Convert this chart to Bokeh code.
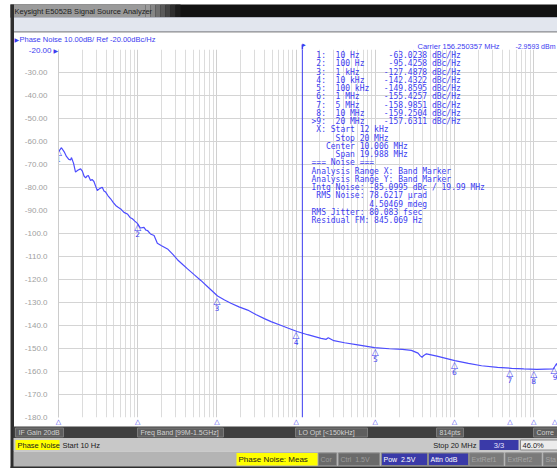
import math
from bokeh.plotting import figure
from bokeh.models import (Range1d, FixedTicker, CustomJSTickFormatter, Span, GridBox,
                          LogScale, ColumnDataSource)
from bokeh.core.properties import value
from bokeh.embed import file_html
from bokeh.resources import INLINE

# ---------------- data ----------------
freq_hz = [10, 10.9, 11.8, 12.6, 13.5, 14.2, 14.6, 15.5, 16.4, 17.5, 19.0, 20.0,
           21.0, 22.0, 23.0, 23.8, 25.4, 26.5, 28.0, 29.5, 30.9, 33.0, 35.7, 37.5,
           39.4, 42.0, 45.5, 49.0, 52.7, 56.5, 61.0, 67.0, 74.1, 80.0, 85.7, 92.0,
           99.1, 108, 120, 127, 133, 145, 161, 177, 200, 238, 280, 318, 370, 426,
           520, 627, 800, 1020, 1250, 1503, 1900, 2450, 3100, 3975, 4830, 6500,
           8000, 10300, 14000, 20700, 24000, 25500, 30000, 40850, 60000, 98000,
           150000, 220000, 285700, 346700, 370000, 390000, 410000, 442600, 600000,
           1009000, 1500000, 2198000, 3500000, 5272000, 7500000, 10900000,
           14000000, 17700000, 19500000, 20000000]
phase_noise_dbc = [-64.5, -62.7, -64.5, -66.5, -67.8, -68.0, -67.0, -69.5, -73.3, -72.5,
                   -71.9, -72.9, -75.0, -75.8, -75.0, -74.8, -77.0, -76.5, -77.4, -79.5,
                   -81.3, -80.5, -79.9, -81.5, -82.0, -83.5, -84.9, -86.5, -87.8, -88.6,
                   -89.3, -90.8, -91.5, -93.0, -93.6, -94.6, -95.6, -97.6, -97.3, -98.5,
                   -98.7, -100.2, -100.9, -104.2, -105.3, -106.7, -109.2, -111.4, -113.5,
                   -115.4, -118.0, -120.4, -123.8, -127.2, -128.9, -130.3, -131.9, -133.3,
                   -135.2, -137.0, -138.3, -140.0, -141.2, -142.6, -144.0, -145.6, -146.0,
                   -145.3, -146.6, -147.5, -148.4, -149.6, -150.1, -150.4, -150.8, -152.0,
                   -153.2, -153.8, -153.0, -152.3, -153.3, -155.3, -156.5, -157.5, -158.2,
                   -158.6, -158.9, -159.1, -159.0, -158.9, -156.5, -157.6]

marker_num = ["1", "2", "3", "4", "5", "6", "7", "8", "9"]
marker_freq_hz = [10, 100, 1e3, 1e4, 1e5, 1e6, 5e6, 1e7, 2e7]
marker_freq_text = ["10 Hz", "100 Hz", "1 kHz", "10 kHz", "100 kHz", "1 MHz",
                    "5 MHz", "10 MHz", "20 MHz"]
marker_dbc = [-63.0238, -95.4258, -127.4878, -142.4322, -149.8595, -155.4257,
              -158.9851, -159.2504, -157.6311]

y_ticks = [-180, -170, -160, -150, -140, -130, -120, -110, -100, -90, -80, -70,
           -60, -50, -40, -30, -20]
decade_ticks = [10, 100, 1e3, 1e4, 1e5, 1e6, 1e7]
start_hz, stop_hz = 10, 2e7
band_start_hz = 12e3

header_text = "Phase Noise 10.00dB/ Ref -20.00dBc/Hz"
carrier_text = "Carrier 156.250357 MHz"
carrier_power = "-2.9593 dBm"
window_title = "Keysight E5052B Signal Source Analyzer"

band_lines = [" X: Start 12 kHz", "     Stop 20 MHz", "   Center 10.006 MHz",
              "     Span 19.988 MHz"]
noise_lines = ["=== Noise ===", "Analysis Range X: Band Marker",
               "Analysis Range Y: Band Marker",
               "Intg Noise: -85.0995 dBc / 19.99 MHz",
               " RMS Noise: 78.6217 \u00b5rad", "            4.50469 mdeg",
               "RMS Jitter: 80.083 fsec", "Residual FM: 845.069 Hz"]

row1_text = ["IF Gain 20dB", "Freq Band [99M-1.5GHz]", "LO Opt [<150kHz]", "814pts", "Corre"]
row3_text = ["Cor", "Ctrl  1.5V", "Pow  2.5V", "Attn 0dB", "ExtRef1", "ExtRef2", "Sta"]

# ---------------- layout ----------------
W, H = 557, 468
FL, FT, FB = 58, 49, 417           # frame left / top / bottom (px)
BLUE = "#3c3cf0"
MONO = "DejaVu Sans Mono"
SANS = "Liberation Sans"

msrc = ColumnDataSource(dict(
    f=marker_freq_hz, v=marker_dbc, n=marker_num,
    tri=["\u25B3"] * len(marker_num),
    align=["right" if f >= stop_hz else "center" for f in marker_freq_hz]))

# ---- main chart (real scales and axis) ----
p = figure(width=W, height=H, x_axis_type="log",
           x_range=Range1d(start_hz, stop_hz), y_range=Range1d(-180, -20),
           output_backend="svg", toolbar_location=None,
           min_border_left=FL, min_border_right=0, min_border_top=FT,
           min_border_bottom=H - FB)
p.frame_align = False
p.outline_line_color = None
p.background_fill_color = "white"
p.border_fill_color = "white"
p.xaxis.visible = False
minor = [m * d for d in decade_ticks for m in range(2, 10)]
p.xgrid.ticker = FixedTicker(ticks=decade_ticks, minor_ticks=minor)
p.xgrid.grid_line_color = "#d0d0d0"
p.xgrid.minor_grid_line_color = "#dcdcdc"
p.ygrid.ticker = FixedTicker(ticks=y_ticks)
p.ygrid.grid_line_color = "#d4d4d4"

ya = p.yaxis[0]
ya.ticker = FixedTicker(ticks=y_ticks)
ya.formatter = CustomJSTickFormatter(
    code="return Math.abs(tick) < 100 ? tick.toFixed(2) : tick.toFixed(1);")
ya.major_label_overrides = {-20: ""}
ya.major_label_text_color = "#a0a0a0"
ya.major_label_text_font = SANS
ya.major_label_text_font_size = "8px"
ya.major_label_standoff = 5
ya.major_tick_line_color = None
ya.minor_tick_line_color = None
ya.axis_line_color = "#cccccc"

p.line(freq_hz, phase_noise_dbc, line_color="#4c4cff", line_width=1.2)
p.text(x="f", y="v", text="tri", source=msrc, text_font_size="9px",
       text_align="align", text_baseline="top", text_color=BLUE, y_offset=-1,
       text_font=value("DejaVu Sans"))
p.text(x="f", y="v", text="n", source=msrc, text_font_size="7.5px",
       text_align="align", text_baseline="top", text_color=BLUE, y_offset=8,
       text_font=value("DejaVu Sans"))
p.add_layout(Span(location=band_start_hz, dimension="height", line_color=BLUE,
                  line_width=1))

# ---- overlay: analyser window chrome, page-pixel coordinates ----
px_per_dec = (W - FL) / (math.log10(stop_hz) - math.log10(start_hz))
f_left = 10 ** (math.log10(start_hz) - FL / px_per_dec)
ov = figure(width=W, height=H, x_range=Range1d(0, W), y_range=Range1d(H, 0),
            x_axis_location=None, y_axis_location=None, min_border=0,
            output_backend="svg", toolbar_location=None)
ov.frame_align = False
ov.extra_x_ranges = {"freq": Range1d(f_left, stop_hz)}
ov.extra_x_scales = {"freq": LogScale()}
ov.grid.visible = False
ov.outline_line_color = None
ov.background_fill_color = None
ov.border_fill_color = None

NBSP = "\u00a0"


def box(x0, y0, x1, y1, fill, line=None):
    ov.quad(left=[x0], right=[x1], top=[y0], bottom=[y1], fill_color=fill,
            line_color=line, line_width=1)


def txt(x, y, s, color, size="8px", font=SANS, align="left"):
    ov.text(x=[x], y=[y], text=[s.replace(" ", NBSP)], text_color=color,
            text_font_size=size, text_font=value(font), text_align=align,
            text_baseline="middle")


# title bar + menu bar + window border
box(10, 4, W, 17, "#121212")
steps = ["#9a9a9a", "#868686", "#707070", "#5a5a5a", "#444444", "#2e2e2e", "#1c1c1c"]
box(10, 4, 145, 17, steps[0])
for i, c in enumerate(steps):
    box(145 + i * 5, 4, 150 + i * 5, 17, c)
txt(14, 10.5, window_title, "#1e1e1e", size="7.5px")
box(13, 17, W, 31, "#e2e6ee", "#b4b8c4")
box(13, 31, W, 32, "#8c8c8c")
box(10, 4, 13.5, H, "#2e2e2e")

# header texts
txt(14, 39, "\u25B6", BLUE, size="6px", font="DejaVu Sans")
txt(19, 39, header_text, BLUE, size="7.5px")
txt(417, 46, carrier_text, BLUE, size="7.5px")
txt(555, 46, carrier_power, BLUE, size="7px", align="right")
txt(51, 50, "-20.00", BLUE, size="8px", align="right")
txt(53, 50, "\u25B6", BLUE, size="6px", font="DejaVu Sans")
ov.segment(x0=[band_start_hz], x1=[band_start_hz], y0=[44], y1=[FT],
           x_range_name="freq", line_color=BLUE, line_width=1.5)
ov.text(x=[band_start_hz], y=[44.5], text=["\u25B8"], x_range_name="freq",
        text_color=BLUE, text_font_size="7px", text_baseline="middle",
        text_font=value("DejaVu Sans"))

# marker table
table = [f"{('>' if i == len(marker_num) - 1 else ' ') + n + ':'}  {ft:<10}{v:>9.4f} dBc/Hz"
         for i, (n, ft, v) in enumerate(zip(marker_num, marker_freq_text, marker_dbc))]
for i, s in enumerate(table + band_lines + noise_lines):
    txt(311, 55 + 8.25 * i, s, BLUE, size="8px", font=MONO)

# marker indicators under the frame
ov.text(x="f", y=value(421), text="tri", source=msrc, x_range_name="freq",
        text_color=BLUE, text_font_size="7px", text_font=value("DejaVu Sans"),
        text_align="align", text_baseline="middle")

# status bars
box(13, 426, W, 437.5, "#3f3f3f")
row1_x = [(15, 63), (137, 223), (295, 367), (436, 463), (533, 560)]
for s, (a, b) in zip(row1_text, row1_x):
    box(a, 427.5, b, 436.5, "#5e5e5e", "#7a7a7a")
    txt(a + 3, 432, s, "#d2d2d2", size="7px")

box(13, 437.5, W, 451, "#c8c8c8")
box(15, 439.5, 59, 449.5, "#ffff00")
txt(17, 444.5, "Phase Noise", "#1a1a1a", size="7.5px")
txt(62, 444.5, "Start 10 Hz", "#1a1a1a", size="7.5px")
txt(476, 444.5, "Stop 20 MHz", "#1a1a1a", size="7.5px", align="right")
box(479, 439.5, 518, 449.5, "#3a3aa8")
txt(498.5, 444.5, "3/3", "#e4e4ff", size="7.5px", align="center")
box(520, 439.5, 560, 449.5, "#ececec", "#8a8a8a")
txt(522, 444.5, "46.0%", "#222222", size="7.5px")

box(13, 451, W, H, "#b4b4b4")
box(236, 452.5, 317, 465, "#ffff00")
txt(238, 459, "Phase Noise: Meas", "#1a1a1a", size="8px")
row3_x = [(318, 336), (338, 379), (381, 427), (428, 468), (469, 503), (505, 541), (543, 560)]
row3_fill = ["#6a6a6a", "#6a6a6a", "#3a3aa8", "#3a3aa8", "#7a7a7a", "#7a7a7a", "#7a7a7a"]
row3_col = ["#9c9c9c", "#9c9c9c", "#ffffff", "#ffffff", "#a4a4a4", "#a4a4a4", "#a4a4a4"]
for s, (a, b), fc, tc in zip(row3_text, row3_x, row3_fill, row3_col):
    box(a, 452.5, b, 465, fc, "#8a8a8a")
    txt(a + 2, 459, s, tc, size="7px")
box(10, H - 2, W, H, "#2e2e2e")

layout = GridBox(children=[(p, 0, 0), (ov, 0, 0)])
open("out.html", "w").write(file_html(layout, INLINE))
